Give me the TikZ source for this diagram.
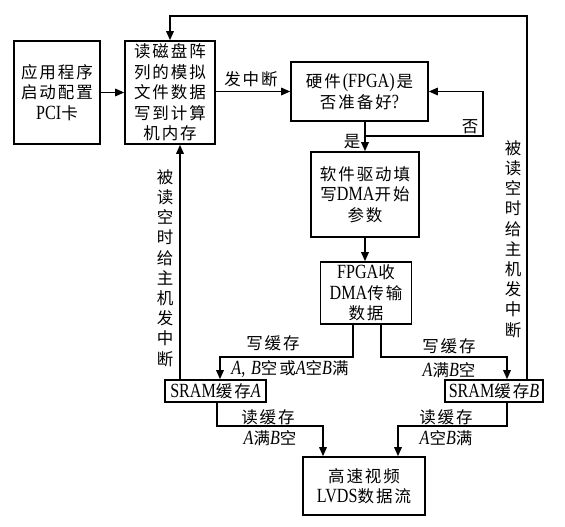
\documentclass[tikz,border=0pt]{standalone}
\usepackage{fontspec}
\setmainfont{Liberation Serif}[Scale=1.22,FakeStretch=0.8]
\newfontfamily\cjk{Noto Sans CJK SC}[LetterSpace=12]
\usetikzlibrary{arrows.meta,calc}
\newcommand{\la}[1]{{\rmfamily #1}}
\newcommand{\ia}[1]{{\rmfamily\itshape #1}}
\begin{document}
\begin{tikzpicture}[x=1pt,y=-1pt,line width=1.6pt,
  txt/.style={font=\cjk\fontsize{16.5}{20.5}\selectfont},
  blk/.style={txt,draw,inner sep=0pt,align=center},
  lbl/.style={txt,inner sep=0pt},
  vtx/.style={font=\cjk\fontsize{16.5}{20.2}\selectfont,inner sep=0pt,align=center},
  arr/.style={-{Triangle[length=9pt,width=7.5pt]}}]
\useasboundingbox (0,0) rectangle (565,527);
\fill[white] (0,0) rectangle (565,527);
% boxes
\node[blk,minimum width=86,minimum height=103] (b1) at (57,92.5) {应用程序\\启动配置\\\la{PCI}卡};
\node[blk,minimum width=90,minimum height=103] (b2) at (170,92.5) {读磁盘阵\\列的模拟\\文件数据\\写到计算\\机内存};
\node[blk,minimum width=137,minimum height=59] (b3) at (359.5,91.5) {硬件\hspace{2pt}\la{(FPGA)}\hspace{2pt}是\\否准备好\la{?}};
\node[blk,minimum width=108,minimum height=85] (b4) at (365,194.5) {软件驱动填\\写\la{DMA}开始\\参数};
\node[blk,minimum width=91,minimum height=62] (b5) at (366,293) {\la{FPGA}收\\\la{DMA}传输\\数据};
\node[blk,minimum width=101,minimum height=22] (sa) at (215.5,391) {\la{SRAM}缓存\ia{A}};
\node[blk,minimum width=98,minimum height=22] (sb) at (494,391) {\la{SRAM}缓存\ia{B}};
\node[blk,minimum width=122,minimum height=58] (b6) at (364,486) {高速视频\\\la{LVDS}数据流};
% labels
\node[lbl] (l1) at (251,79) {发中断};
\node[lbl] (l2) at (470,127) {否};
\node[lbl] (l3) at (352,142) {是};
\node[lbl] (l4) at (273,343) {写缓存};
\node[lbl] (l5) at (290,369) {\ia{A}\la{,} \ia{B}空\hspace{2pt}或\ia{A}空\ia{B}满};
\node[lbl] (l6) at (449,346) {写缓存};
\node[lbl] (l7) at (449,370) {\ia{A}满\ia{B}空};
\node[lbl] (l8) at (268,417) {读缓存};
\node[lbl] (l9) at (270,438) {\ia{A}满\ia{B}空};
\node[lbl] (l10) at (446,417) {读缓存};
\node[lbl] (l11) at (446,438) {\ia{A}空\ia{B}满};
\node[vtx] (v1) at (165,268) {被\\读\\空\\时\\给\\主\\机\\发\\中\\断};
\node[vtx] (v2) at (513,239) {被\\读\\空\\时\\给\\主\\机\\发\\中\\断};
% coordinates
\coordinate (lp) at (483,136);
\coordinate (wa) at (220,357);
\coordinate (wb) at (507,357);
\coordinate (ra) at (217,426);
\coordinate (rb) at (507,426);
\coordinate (la) at (180,0);
\coordinate (tp) at (527,16);
% connectors
\draw[arr] (b1) -- (b2);
\draw[arr] (b2.east |- b3.west) -- (b3.west);
\draw[arr] (b3.south -| b4.north) -- (b4.north);
\draw[arr] (b4.north |- lp) -- (lp) -- (lp |- b3.east) -- (b3.east);
\draw[arr] (b4.south) -- (b4.south |- b5.north);
\draw[arr] ([xshift=-13pt]b5.south) |- (wa) -- (wa |- sa.north);
\draw[arr] ([xshift=15pt]b5.south) |- (wb) -- (wb |- sb.north);
\draw[arr] (sa.south -| ra) -- (ra) -| ([xshift=-41pt]b6.north);
\draw[arr] (sb.south -| rb) -- (rb) -| ([xshift=34pt]b6.north);
\draw[arr] (sa.north -| la) -- (b2.south -| la);
\draw[arr] (sb.north -| tp) -- (tp) -| (b2.north);
\end{tikzpicture}
\end{document}
